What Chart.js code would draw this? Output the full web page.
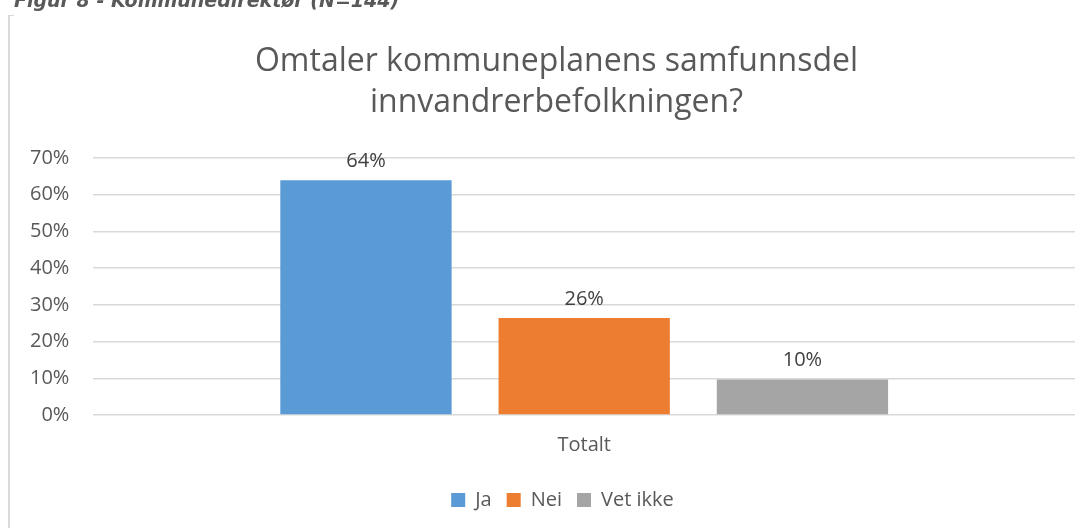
<!DOCTYPE html>
<html>
<head>
<meta charset="utf-8">
<script src="https://cdn.jsdelivr.net/npm/chart.js@4"></script>
<style>
  html, body { margin: 0; padding: 0; background: #fff; }
  body { width: 1091px; height: 528px; position: relative; overflow: hidden; }
  #caption { position: absolute; left: 14px; top: -11px; font-family: "DejaVu Sans", sans-serif; font-weight: bold; font-style: italic; font-size: 19px; color: #595959; white-space: nowrap; }
  #frame { position: absolute; left: 8px; top: 15px; width: 2px; height: 513px; background: #d9d9d9; }
  #frametop { position: absolute; left: 8px; top: 15px; width: 6px; height: 1px; background: #d9d9d9; }
  #wrap { position: absolute; left: 0; top: 0; width: 1091px; height: 528px; }
</style>
</head>
<body>
<div id="wrap"><canvas id="c" width="1091" height="528"></canvas></div>
<div id="frame"></div>
<div id="frametop"></div>
<div id="caption">Figur 8 - Kommunedirektør (N=144)</div>
<script>
const categories = ["Totalt"];
const seriesNames = ["Ja", "Nei", "Vet ikke"];
const seriesValues = [[0.639], [0.264], [0.097]];
const dataLabels = ["64%", "26%", "10%"];
const seriesColors = ["#5B9BD5", "#ED7D31", "#A5A5A5"];
const yTicks = [0, 0.1, 0.2, 0.3, 0.4, 0.5, 0.6, 0.7];
const titleLines = ["Omtaler kommuneplanens samfunnsdel", "innvandrerbefolkningen?"];

const FONT = "'Open Sans', sans-serif";

const labelPlugin = {
  id: 'barLabels',
  afterDatasetsDraw(chart) {
    const ctx = chart.ctx;
    ctx.save();
    ctx.font = "20px " + FONT;
    ctx.fillStyle = "#404040";
    ctx.textAlign = "center";
    ctx.textBaseline = "bottom";
    chart.data.datasets.forEach((ds, i) => {
      const meta = chart.getDatasetMeta(i);
      meta.data.forEach((bar) => {
        ctx.fillText(dataLabels[i], bar.x, bar.y - 9);
      });
    });
    ctx.restore();
  }
};

// shift title and legend boxes so they centre on the (wider) original chart frame
const shiftPlugin = {
  id: 'shiftBoxes',
  afterLayout(chart) {
    if (chart.titleBlock) { chart.titleBlock.left += 16; chart.titleBlock.right += 16; }
    if (chart.legend) { chart.legend.left += 22; chart.legend.right += 22; }
  }
};

new Chart(document.getElementById('c'), {
  type: 'bar',
  data: {
    labels: categories,
    datasets: seriesNames.map((n, i) => ({
      label: n,
      data: seriesValues[i],
      backgroundColor: seriesColors[i],
      borderWidth: 0,
      barPercentage: 0.785,
      categoryPercentage: 0.667
    }))
  },
  options: {
    responsive: false,
    animation: false,
    devicePixelRatio: 1,
    layout: { padding: { left: 6, right: 16, top: 0, bottom: 8 } },
    plugins: {
      title: {
        display: true,
        text: titleLines,
        color: "#595959",
        font: { family: FONT, size: 32, weight: 'normal', lineHeight: 1.28 },
        padding: { top: 41, bottom: 35 }
      },
      legend: {
        position: 'bottom',
        labels: {
          color: "#595959",
          font: { family: FONT, size: 20 },
          boxWidth: 14, boxHeight: 14,
          padding: 15
        }
      },
      tooltip: { enabled: false }
    },
    scales: {
      y: {
        min: 0, max: 0.7,
        afterBuildTicks(scale) { scale.ticks = yTicks.map(v => ({ value: v })); },
        ticks: {
          color: "#595959",
          font: { family: FONT, size: 20 },
          padding: 24,
          callback: v => Math.round(v * 100) + "%"
        },
        grid: { color: "#d9d9d9", lineWidth: 1.5, drawTicks: false },
        border: { display: false }
      },
      x: {
        ticks: { color: "#595959", font: { family: FONT, size: 20 }, padding: 18 },
        grid: { display: false, drawTicks: false },
        border: { display: false }
      }
    }
  },
  plugins: [labelPlugin, shiftPlugin]
});
</script>
</body>
</html>
